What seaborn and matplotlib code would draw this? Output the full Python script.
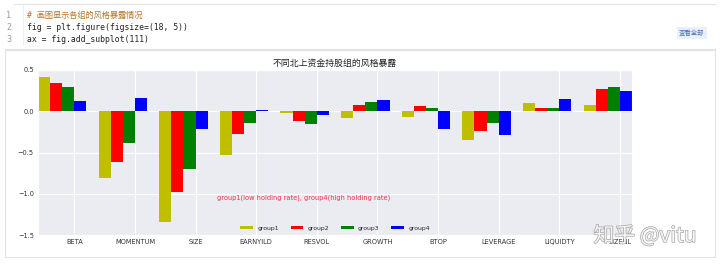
import numpy as np
import pandas as pd
import matplotlib
matplotlib.use("Agg")
import matplotlib.pyplot as plt
import matplotlib.patheffects as pe
import seaborn as sns
from matplotlib.patches import Rectangle
from matplotlib.lines import Line2D

factors = ["BETA", "MOMENTUM", "SIZE", "EARNYILD", "RESVOL",
           "GROWTH", "BTOP", "LEVERAGE", "LIQUIDTY", "SIZENL"]
group1 = [0.42, -0.815, -1.345, -0.53, -0.02, -0.08, -0.065, -0.345, 0.105, 0.07]
group2 = [0.34, -0.62, -0.975, -0.28, -0.12, 0.075, 0.06, -0.24, 0.04, 0.27]
group3 = [0.29, -0.38, -0.70, -0.14, -0.16, 0.11, 0.035, -0.14, 0.045, 0.295]
group4 = [0.125, 0.155, -0.21, 0.01, -0.05, 0.135, -0.21, -0.285, 0.145, 0.24]
groups = ["group1", "group2", "group3", "group4"]
colors = [(0.75, 0.75, 0.0), (1.0, 0.0, 0.0), (0.0, 0.5, 0.0), (0.0, 0.0, 1.0)]
title = "不同北上资金持股组的风格暴露"
note = "group1(low holding rate), group4(high holding rate)"
code_lines = ["# 画图显示各组的风格暴露情况",
              "fig = plt.figure(figsize=(18, 5))",
              "ax = fig.add_subplot(111)"]

df = pd.DataFrame({"factor": factors * 4,
                   "group": sum([[g] * len(factors) for g in groups], []),
                   "value": group1 + group2 + group3 + group4})

sns.set_style("darkgrid", {"axes.facecolor": "#EBEBF2"})
plt.rcParams["font.family"] = ["DejaVu Sans", "Noto Sans CJK SC"]

W, H = 720, 264
fig = plt.figure(figsize=(W / 100, H / 100), dpi=100)
fig.patch.set_facecolor("white")

def fx(px):
    return px / W

def fy(py):
    return 1 - py / H

ax = fig.add_axes([fx(38), fy(235), fx(632) - fx(38), fy(70) - fy(235)])
sns.barplot(data=df, x="factor", y="value", hue="group", order=factors,
            hue_order=groups, palette=colors, saturation=1, width=0.8,
            ax=ax, errorbar=None, edgecolor="none", linewidth=0)

ax.set_xlim(-0.4, 9.4)
ax.set_ylim(-1.5, 0.5)
ax.set_xticks(np.arange(len(factors)) + 0.2)
ax.set_xticklabels(factors, fontsize=4.8, color="#333333")
ax.set_yticks([-1.5, -1.0, -0.5, 0.0, 0.5])
ax.set_yticklabels(["\u22121.5", "\u22121.0", "\u22120.5", "0.0", "0.5"],
                   fontsize=4.8, color="#333333")
ax.tick_params(axis="both", length=0, pad=3)
ax.grid(True, color="white", linewidth=0.8)
ax.set_xlabel("")
ax.set_ylabel("")
ax.set_title(title, fontsize=6.4, color="#222222", pad=3)
ax.text(2.55, -1.05, note, color="#f0304a", fontsize=4.8, va="center")
ax.legend(loc="lower center", ncol=4, frameon=False, fontsize=4.4,
          handlelength=2.1, handleheight=0.5, handletextpad=0.7,
          columnspacing=1.9, borderaxespad=0.3)

# notebook code cell
lnc = "#9a9a9a"
for i, line in enumerate(code_lines):
    y = fy(15 + 12 * i)
    fig.text(fx(6), y, str(i + 1), fontsize=6, color=lnc, va="center",
             family=["DejaVu Sans Mono"])
    col = "#b8742a" if line.startswith("#") else "#222222"
    fig.text(fx(27), y, line, fontsize=5.9, color=col, va="center",
             family=["DejaVu Sans Mono", "Noto Sans CJK SC"])
fig.text(fx(692), fy(33), "查看全部", fontsize=4.6, color="#4a6fb5",
         ha="center", va="center", family=["Noto Sans CJK SC"],
         bbox=dict(boxstyle="square,pad=0.3", fc="#eaf0fb", ec="none"))

lc = "#e3e3e3"
fig.add_artist(Line2D([fx(14), fx(715)], [fy(4), fy(4)], color=lc, lw=0.8))
fig.add_artist(Line2D([fx(23), fx(23)], [fy(5), fy(45)], color="#ececec", lw=0.6))
fig.add_artist(Line2D([fx(5), fx(715)], [fy(49), fy(49)], color=lc, lw=0.8))
fig.add_artist(Rectangle((fx(5), fy(257)), fx(715) - fx(5), fy(50) - fy(257),
                         fill=False, ec=lc, lw=0.8, transform=fig.transFigure))

fig.text(fx(645), fy(236), "知乎 @vitu", fontsize=15, color="white",
         alpha=0.85, ha="center", va="center",
         family=["Noto Sans CJK SC", "DejaVu Sans"],
         path_effects=[pe.withStroke(linewidth=1.0, foreground="#9a9a9a")])

fig.savefig("out.png", dpi=100)
